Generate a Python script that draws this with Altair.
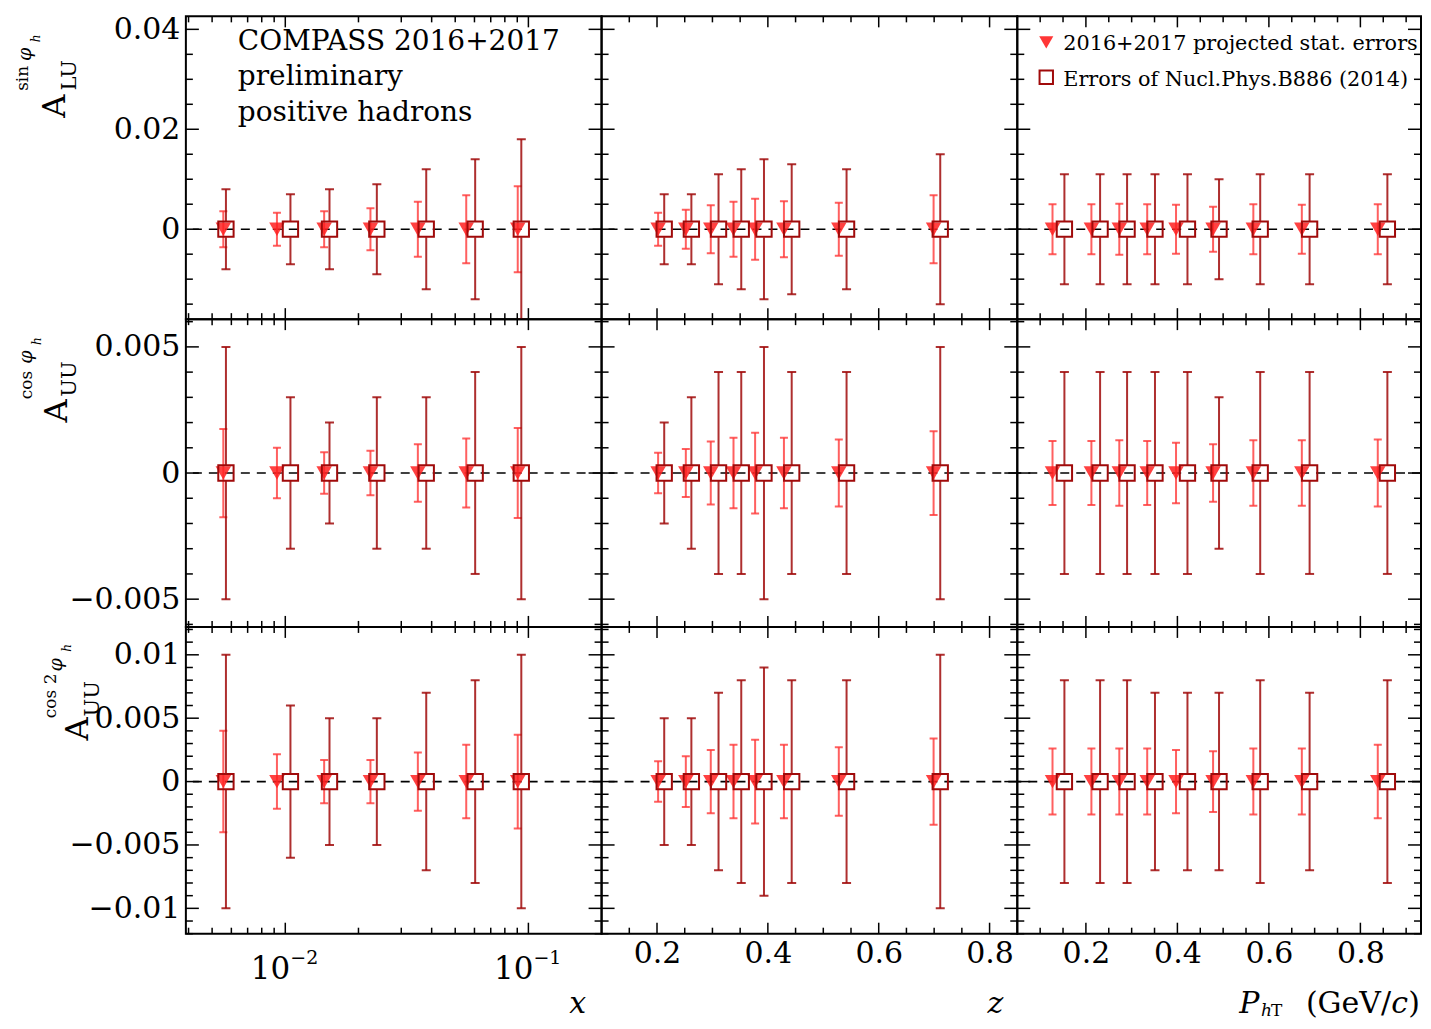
import altair as alt
import pandas as pd

FONT = "DejaVu Serif"
DARK = "#a00a0a"
LIGHT = "#ff3838"
TRI = "#ff2020"

# ---- bin centres ----
X_SQ = [0.0057, 0.0105, 0.0152, 0.0238, 0.038, 0.0604, 0.0935]
X_TRI = [0.00556, 0.00924, 0.01445, 0.0224, 0.0351, 0.0555, 0.0904]
Z_SQ = [0.213, 0.262, 0.311, 0.352, 0.393, 0.443, 0.542, 0.711]
Z_TRI = [0.202, 0.252, 0.297, 0.338, 0.377, 0.429, 0.528, 0.699]
PT_SQ = [0.153, 0.231, 0.290, 0.351, 0.422, 0.491, 0.581, 0.689, 0.859]
PT_TRI = [0.127, 0.212, 0.273, 0.334, 0.397, 0.478, 0.566, 0.672, 0.838]

# ---- errors: Nucl.Phys.B886 (OLD, squares) and 2016+2017 projection (NEW, triangles) ----
SIN_X_OLD = [0.008, 0.007, 0.008, 0.009, 0.012, 0.014, 0.018]
SIN_X_NEW = [0.0036, 0.0033, 0.0036, 0.0042, 0.0055, 0.0068, 0.0086]
SIN_Z_OLD = [0.007, 0.007, 0.011, 0.012, 0.014, 0.013, 0.012, 0.015]
SIN_Z_NEW = [0.0033, 0.0039, 0.0048, 0.0055, 0.0061, 0.0056, 0.0053, 0.0068]
SIN_PT_OLD = [0.011, 0.011, 0.011, 0.011, 0.011, 0.010, 0.011, 0.011, 0.011]
SIN_PT_NEW = [0.005, 0.005, 0.0051, 0.005, 0.0049, 0.0045, 0.005, 0.0049, 0.005]
COS_X_OLD = [0.005, 0.003, 0.002, 0.003, 0.003, 0.004, 0.005]
COS_X_NEW = [0.00175, 0.001, 0.00082, 0.00088, 0.00114, 0.00137, 0.00178]
COS_Z_OLD = [0.002, 0.003, 0.004, 0.004, 0.005, 0.004, 0.004, 0.005]
COS_Z_NEW = [0.0008, 0.00095, 0.00125, 0.0014, 0.0016, 0.0014, 0.00133, 0.00166]
COS_PT_OLD = [0.004, 0.004, 0.004, 0.004, 0.004, 0.003, 0.004, 0.004, 0.004]
COS_PT_NEW = [0.00127, 0.00127, 0.0013, 0.00127, 0.0012, 0.00114, 0.0013, 0.0013, 0.00133]
COS2_X_OLD = [0.010, 0.006, 0.005, 0.005, 0.007, 0.008, 0.010]
COS2_X_NEW = [0.0040, 0.00215, 0.0017, 0.0017, 0.0023, 0.0029, 0.0037]
COS2_Z_OLD = [0.005, 0.005, 0.007, 0.008, 0.009, 0.008, 0.008, 0.010]
COS2_Z_NEW = [0.0016, 0.0020, 0.0025, 0.0029, 0.0033, 0.0029, 0.0027, 0.0034]
COS2_PT_OLD = [0.008, 0.008, 0.008, 0.007, 0.007, 0.007, 0.008, 0.007, 0.008]
COS2_PT_NEW = [0.0026, 0.0026, 0.0026, 0.0026, 0.0025, 0.0024, 0.0026, 0.0026, 0.0029]

SQ_POS = [X_SQ, Z_SQ, PT_SQ]
TRI_POS = [X_TRI, Z_TRI, PT_TRI]
ERR_OLD = [[SIN_X_OLD, SIN_Z_OLD, SIN_PT_OLD],
           [COS_X_OLD, COS_Z_OLD, COS_PT_OLD],
           [COS2_X_OLD, COS2_Z_OLD, COS2_PT_OLD]]
ERR_NEW = [[SIN_X_NEW, SIN_Z_NEW, SIN_PT_NEW],
           [COS_X_NEW, COS_Z_NEW, COS_PT_NEW],
           [COS2_X_NEW, COS2_Z_NEW, COS2_PT_NEW]]

# ---- axes ----
X_DOMAINS = [[0.0039, 0.2], [0.1, 0.85], [0.05, 0.9325]]
Y_DOMAINS = [[-0.018, 0.0426], [-0.0061, 0.0061], [-0.012, 0.0122]]
WIDTHS = [416, 416, 404]
HEIGHTS = [303, 308, 307]

Y_MAJOR = [[0.0, 0.02, 0.04], [-0.005, 0.0, 0.005], [-0.01, -0.005, 0.0, 0.005, 0.01]]
Y_MINOR = [
    [-0.015, -0.01, -0.005, 0.005, 0.01, 0.015, 0.025, 0.03, 0.035],
    [-0.006, -0.004, -0.003, -0.002, -0.001, 0.001, 0.002, 0.003, 0.004, 0.006],
    [-0.012, -0.011, -0.009, -0.008, -0.007, -0.006, -0.004, -0.003, -0.002, -0.001,
     0.001, 0.002, 0.003, 0.004, 0.006, 0.007, 0.008, 0.009, 0.011, 0.012],
]
X_MAJOR = [[0.01, 0.1], [0.2, 0.4, 0.6, 0.8], [0.2, 0.4, 0.6, 0.8]]
X_MINOR = [
    [0.004, 0.005, 0.006, 0.007, 0.008, 0.009, 0.02, 0.03, 0.04, 0.05, 0.06, 0.07, 0.08, 0.09],
    [0.15, 0.25, 0.3, 0.35, 0.45, 0.5, 0.55, 0.65, 0.7, 0.75],
    [0.1, 0.15, 0.25, 0.3, 0.35, 0.45, 0.5, 0.55, 0.65, 0.7, 0.75, 0.85, 0.9],
]
LOG_BASE = ["10", "10"]
LOG_EXP = ["\u22122", "\u22121"]

# ---- texts ----
HEADER = ["COMPASS 2016+2017", "preliminary", "positive hadrons"]
LEGEND = ["2016+2017 projected stat. errors", "Errors of Nucl.Phys.B886 (2014)"]
# y titles: (text, dx, dy, size, italic) relative to the left panel of each row
Y_TITLES = [
    [("A", -131, 90, 32, False), ("LU", -116, 59, 21, False), ("sin", -163, 62, 17, False),
     ("\u03c6", -161, 38, 19, True), ("h", -150, 22, 12, True)],
    [("A", -129, 92, 32, False), ("UU", -116, 60, 21, False), ("cos", -159, 66, 17, False),
     ("\u03c6", -160, 38, 19, True), ("h", -149, 22, 12, True)],
    [("A", -108, 102, 32, False), ("UU", -93, 72, 21, False), ("cos 2", -135, 69, 17, False),
     ("\u03c6", -130, 38, 19, True), ("h", -119, 21, 12, True)],
]

ONE = pd.DataFrame({"k": [0]})


def txt(text, x, y, size, italic=False, angle=None, align="center", baseline="middle", lineHeight=None):
    kw = dict(font=FONT, fontSize=size, align=align, baseline=baseline, color="black")
    if italic:
        kw["fontStyle"] = "italic"
    if angle is not None:
        kw["angle"] = angle
    if lineHeight is not None:
        kw["lineHeight"] = lineHeight
    return alt.Chart(ONE).mark_text(**kw).encode(
        x=alt.value(x), y=alt.value(y), text=alt.value(text))


def panel(r, c):
    W, H = WIDTHS[c], HEIGHTS[r]
    xs = alt.Scale(type="log" if c == 0 else "linear", domain=X_DOMAINS[c], nice=False, zero=False)
    ys = alt.Scale(domain=Y_DOMAINS[r], nice=False, zero=False)
    if c == 0:
        yax = alt.Axis(values=Y_MAJOR[r], format="~g", ticks=False, tickSize=0, domain=False,
                       grid=False, labelFont=FONT, labelFontSize=30, labelColor="black",
                       labelPadding=6, labelOverlap=False, labelFlush=False, title=None)
    else:
        yax = None
    if r == 2 and c > 0:
        xax = alt.Axis(values=X_MAJOR[c], format="~g", ticks=False, tickSize=0, domain=False,
                       grid=False, labelFont=FONT, labelFontSize=30, labelColor="black",
                       labelBaseline="alphabetic", labelPadding=29, labelOverlap=False,
                       labelFlush=False, title=None)
    else:
        xax = None

    def X(f):
        return alt.X(f"{f}:Q", scale=xs, axis=xax)

    def Y(f):
        return alt.Y(f"{f}:Q", scale=ys, axis=yax)

    old = pd.DataFrame({"x": SQ_POS[c], "e": ERR_OLD[r][c]})
    old["hi"] = old["e"]
    old["lo"] = -old["e"]
    old["c"] = 0.0
    new = pd.DataFrame({"x": TRI_POS[c], "e": ERR_NEW[r][c]})
    new["hi"] = new["e"]
    new["lo"] = -new["e"]
    new["c"] = 0.0
    old_caps = pd.DataFrame({"x": list(old["x"]) * 2, "y": list(old["lo"]) + list(old["hi"])})
    new_caps = pd.DataFrame({"x": list(new["x"]) * 2, "y": list(new["lo"]) + list(new["hi"])})

    layers = []
    layers.append(alt.Chart(pd.DataFrame({"y": [0.0]})).mark_rule(
        color="black", strokeDash=[9, 7], strokeWidth=1.6).encode(y=Y("y")))
    # projected errors (light)
    layers.append(alt.Chart(new).mark_rule(color=LIGHT, strokeWidth=2, opacity=0.8, clip=True).encode(
        x=X("x"), y=Y("lo"), y2=alt.Y2("hi:Q")))
    layers.append(alt.Chart(new_caps).mark_tick(orient="horizontal", size=8, thickness=2, color=LIGHT,
                                                opacity=0.8, clip=True).encode(x=X("x"), y=Y("y")))
    # published errors (dark), interrupted at the square marker
    layers.append(alt.Chart(old).mark_rule(color=DARK, strokeWidth=2, opacity=0.85, clip=True,
                                           y2Offset=-8).encode(x=X("x"), y=Y("hi"), y2=alt.Y2("c:Q")))
    layers.append(alt.Chart(old).mark_rule(color=DARK, strokeWidth=2, opacity=0.85, clip=True,
                                           y2Offset=8).encode(x=X("x"), y=Y("lo"), y2=alt.Y2("c:Q")))
    layers.append(alt.Chart(old_caps).mark_tick(orient="horizontal", size=9, thickness=2, color=DARK,
                                                opacity=0.85, clip=True).encode(x=X("x"), y=Y("y")))
    layers.append(alt.Chart(new).mark_point(shape="triangle-down", filled=True, size=240, color=TRI,
                                            opacity=0.85, strokeWidth=0).encode(x=X("x"), y=Y("c")))
    layers.append(alt.Chart(old).mark_point(shape="square", filled=False, size=235, color=DARK,
                                            strokeWidth=2, opacity=1).encode(x=X("x"), y=Y("c")))

    # inward ticks on all four sides
    for vals, ln in ((Y_MAJOR[r], 13), (Y_MINOR[r], 7)):
        d = pd.DataFrame({"v": vals})
        layers.append(alt.Chart(d).mark_rule(color="black", strokeWidth=1.5).encode(
            y=Y("v"), x=alt.value(0), x2=alt.value(ln)))
        layers.append(alt.Chart(d).mark_rule(color="black", strokeWidth=1.5).encode(
            y=Y("v"), x=alt.value(W), x2=alt.value(W - ln)))
    for vals, ln in ((X_MAJOR[c], 11), (X_MINOR[c], 6)):
        d = pd.DataFrame({"v": vals})
        layers.append(alt.Chart(d).mark_rule(color="black", strokeWidth=1.5).encode(
            x=X("v"), y=alt.value(H), y2=alt.value(H - ln)))
        layers.append(alt.Chart(d).mark_rule(color="black", strokeWidth=1.5).encode(
            x=X("v"), y=alt.value(0), y2=alt.value(ln)))

    # y-axis titles
    if c == 0:
        for (t, dx, dy, sz, it) in Y_TITLES[r]:
            layers.append(txt(t, dx, dy, sz, italic=it, angle=270))
    # log x labels 10^-2, 10^-1
    if r == 2 and c == 0:
        lab = pd.DataFrame({"v": X_MAJOR[0], "base": LOG_BASE, "exp": LOG_EXP})
        layers.append(alt.Chart(lab).mark_text(font=FONT, fontSize=31, align="right", baseline="alphabetic",
                                               dx=5, color="black").encode(
            x=X("v"), y=alt.value(H + 45), text="base:N"))
        layers.append(alt.Chart(lab).mark_text(font=FONT, fontSize=19, align="left", baseline="alphabetic",
                                               dx=5, color="black").encode(
            x=X("v"), y=alt.value(H + 30), text="exp:N"))
    # axis titles
    if r == 2 and c == 0:
        layers.append(txt("x", 392, H + 79, 30, italic=True, baseline="alphabetic"))
    if r == 2 and c == 1:
        layers.append(txt("z", 394, H + 79, 30, italic=True, baseline="alphabetic"))
    if r == 2 and c == 2:
        layers.append(txt("P", 222, H + 79, 30, italic=True, align="left", baseline="alphabetic"))
        layers.append(txt("h", 244, H + 82, 17, italic=True, align="left", baseline="alphabetic"))
        layers.append(txt("T", 254, H + 82, 17, align="left", baseline="alphabetic"))
        layers.append(txt("(GeV/", 374, H + 79, 30, align="right", baseline="alphabetic"))
        layers.append(txt("c", 391, H + 79, 30, italic=True, align="right", baseline="alphabetic"))
        layers.append(txt(")", 403, H + 79, 30, align="right", baseline="alphabetic"))
    # header text
    if r == 0 and c == 0:
        layers.append(txt(HEADER, 52, 48.5 - 15, 28, align="left", baseline="alphabetic", lineHeight=35.5))
        # invisible anchor that fixes the chart's top-left extent
        layers.append(alt.Chart(ONE).mark_rule(opacity=0).encode(
            x=alt.value(-176.5), y=alt.value(-7), y2=alt.value(-6)))
    # legend
    if r == 0 and c == 2:
        layers.append(alt.Chart(ONE).mark_point(shape="triangle-down", filled=True, size=200, color=TRI,
                                                opacity=0.9, strokeWidth=0).encode(
            x=alt.value(29), y=alt.value(26)))
        layers.append(alt.Chart(ONE).mark_point(shape="square", filled=False, size=180, color=DARK,
                                                strokeWidth=2, opacity=1).encode(
            x=alt.value(29), y=alt.value(61)))
        layers.append(txt(LEGEND[0], 46, 34, 20.8, align="left", baseline="alphabetic"))
        layers.append(txt(LEGEND[1], 46, 70, 20.8, align="left", baseline="alphabetic"))

    return alt.layer(*layers).properties(width=W, height=H)


panels = [panel(r, c) for r in range(3) for c in range(3)]
chart = alt.concat(*panels, columns=3, spacing=0, bounds="flush").properties(
    padding=0).configure_view(stroke="black", strokeWidth=2)

chart.save("out.html", embed_options={"renderer": "svg", "actions": False})
